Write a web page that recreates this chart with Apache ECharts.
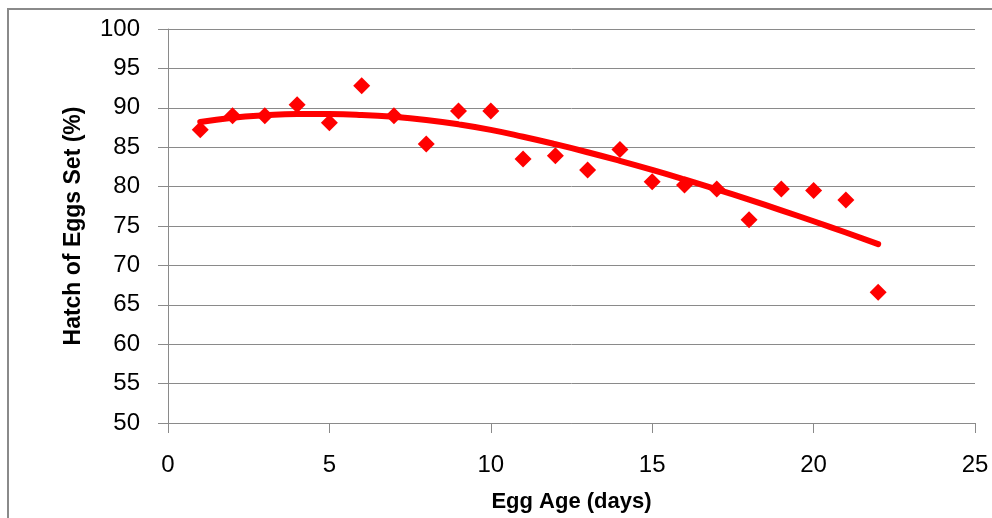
<!DOCTYPE html>
<html>
<head>
<meta charset="utf-8">
<script src="https://cdn.jsdelivr.net/npm/echarts@6/dist/echarts.min.js"></script>
<style>
html,body{margin:0;padding:0;background:#fff;}
#chart{width:992px;height:518px;}
</style>
</head>
<body>
<div id="chart"></div>
<script>
const eggAge = [1,2,3,4,5,6,7,8,9,10,11,12,13,14,15,16,17,18,19,20,21,22];
const hatchPct = [87.2,89.0,89.0,90.4,88.1,92.8,89.0,85.4,89.6,89.6,83.5,83.9,82.1,84.7,80.6,80.2,79.7,75.8,79.7,79.5,78.3,66.6];
const trendPct = [88.2,88.75,89.05,89.2,89.2,89.1,88.85,88.45,87.9,87.2,86.33,85.38,84.36,83.27,82.12,80.91,79.65,78.34,76.99,75.6,74.17,72.7];
const xTitle = 'Egg Age (days)';
const yTitle = 'Hatch of Eggs Set (%)';

const chart = echarts.init(document.getElementById('chart'), null, {renderer:'canvas'});
const font = 'Liberation Sans';
const gray = '#8a8a8a';
chart.setOption({
  animation:false,
  backgroundColor:'#ffffff',
  graphic:[{type:'rect',shape:{x:8,y:9,width:1000,height:530},style:{fill:'none',stroke:gray,lineWidth:2},silent:true}],
  grid:{left:168,right:17,top:29,bottom:95},
  xAxis:{type:'value',min:0,max:25,interval:5,
    name:xTitle,nameLocation:'middle',nameGap:68,
    nameTextStyle:{fontFamily:font,fontWeight:'bold',fontSize:22,color:'#000'},
    axisLine:{show:true,lineStyle:{color:gray,width:1}},
    axisTick:{show:true,length:10,lineStyle:{color:gray}},
    axisLabel:{fontFamily:font,fontSize:24,color:'#000',margin:30},
    splitLine:{show:false}},
  yAxis:{type:'value',min:50,max:100,interval:5,
    name:yTitle,nameLocation:'middle',nameGap:83,nameRotate:90,
    nameTextStyle:{fontFamily:font,fontWeight:'bold',fontSize:23,color:'#000'},
    axisLine:{show:true,lineStyle:{color:gray,width:1}},
    axisTick:{show:true,length:10,lineStyle:{color:gray}},
    axisLabel:{fontFamily:font,fontSize:24,color:'#000',margin:28},
    splitLine:{show:true,lineStyle:{color:gray,width:1}}},
  series:[
    {type:'line',data:eggAge.map((x,i)=>[x,trendPct[i]]),smooth:true,showSymbol:false,
     lineStyle:{color:'#ff0000',width:6,cap:'round'},z:2},
    {type:'scatter',data:eggAge.map((x,i)=>[x,hatchPct[i]]),symbol:'diamond',symbolSize:17,
     itemStyle:{color:'#ff0000',opacity:1},z:3}
  ]
});
</script>
</body>
</html>
